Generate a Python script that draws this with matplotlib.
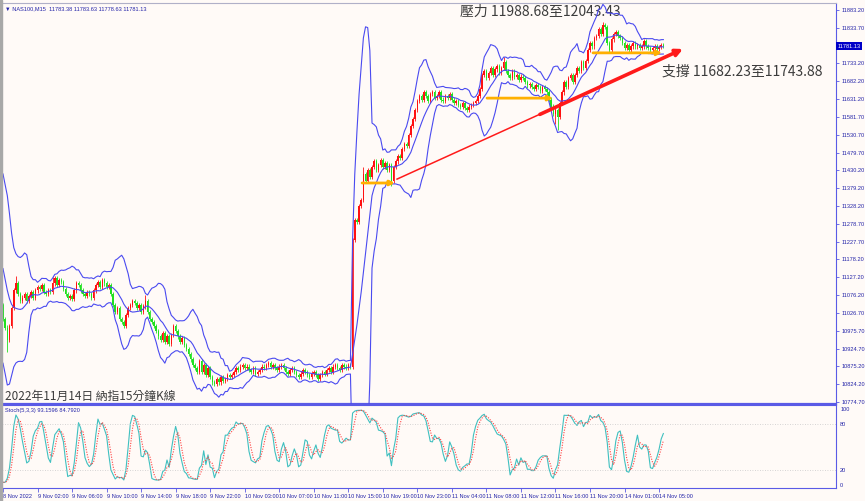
import matplotlib
matplotlib.use('Agg')
import matplotlib.pyplot as plt
import numpy as np
import pandas as pd
from matplotlib.transforms import blended_transform_factory
from matplotlib.patches import Rectangle

# ---------------- data ----------------
warmup_closes = [11290, 11260, 11230, 11200, 11170, 11140, 11100, 11070, 11050]

closes = [
    11010, 10985, 10950, 10990, 11040, 11090, 11110, 11080, 11060, 11070,
    11080, 11060, 11075, 11085, 11070, 11090, 11100, 11095, 11105, 11085,
    11080, 11090, 11085, 11110, 11125, 11105, 11120, 11115, 11095, 11080,
    11070, 11075, 11065, 11090, 11110, 11105, 11090, 11080, 11075, 11085,
    11080, 11070, 11090, 11105, 11115, 11100, 11120, 11110, 11100, 11105,
    11080, 11050, 11030, 11040, 11010, 11000, 10990, 11020, 11040, 11050,
    11060, 11055, 11040, 11050, 11030, 11045, 11060, 11030, 11010, 11000,
    10990, 10975, 10960, 10950, 10970, 10945, 10960, 10940, 10965, 10990,
    10975, 10960, 10945, 10955, 10935, 10925, 10910, 10895, 10880, 10870,
    10860, 10890, 10860, 10880, 10850, 10870, 10845, 10830, 10825, 10840,
    10830, 10845, 10835, 10840, 10850, 10845, 10850, 10860, 10870, 10865,
    10875, 10880, 10870, 10875, 10865, 10860, 10870, 10855, 10860, 10865,
    10875, 10870, 10880, 10885, 10875, 10880, 10870, 10865, 10875, 10880,
    10870, 10860, 10855, 10865, 10870, 10860, 10850, 10845, 10855, 10865,
    10860, 10850, 10845, 10855, 10860, 10850, 10840, 10850, 10860, 10855,
    10865, 10870, 10860, 10875, 10880, 10870, 10865, 10880, 10875, 10870,
    10880, 10875, 11233, 11290, 11285, 11330, 11345, 11420, 11400, 11430,
    11410, 11440, 11455, 11430, 11445, 11460, 11440, 11450, 11430, 11445,
    11400, 11440, 11455, 11470, 11465, 11490, 11505, 11500, 11530, 11555,
    11575, 11600, 11625, 11640, 11630, 11650, 11640, 11625, 11645, 11650,
    11635, 11640, 11650, 11630, 11625, 11640, 11635, 11645, 11630, 11620,
    11625, 11615, 11610, 11620, 11605, 11600, 11610, 11615, 11620, 11625,
    11640, 11660, 11700, 11710, 11690, 11705, 11720, 11700, 11715, 11725,
    11705, 11720, 11735, 11710, 11700, 11690, 11710, 11695, 11700, 11685,
    11695, 11690, 11680, 11670, 11675, 11665, 11660, 11670, 11665, 11655,
    11665, 11660, 11650, 11630, 11610, 11590, 11600, 11580, 11620, 11650,
    11680, 11665, 11690, 11700, 11680, 11700, 11720, 11710, 11735, 11720,
    11740, 11770, 11790, 11780, 11805, 11810, 11830, 11815, 11840, 11835,
    11790, 11770, 11800, 11815, 11820, 11810, 11805, 11790, 11775, 11785,
    11770, 11780, 11790, 11780, 11785, 11775, 11780, 11795, 11780, 11775,
    11770, 11775, 11780, 11772, 11778, 11785, 11781.13,
]

wick_size = 6
notable_highs = {6: 11130, 23: 11128, 66: 11077, 167: 11440, 232: 11750, 278: 11850}
notable_lows = {2: 10915, 180: 11385, 256: 11560, 257: 11545}

time_labels = ["8 Nov 2022", "9 Nov 02:00", "9 Nov 06:00", "9 Nov 10:00", "9 Nov 14:00",
               "9 Nov 18:00", "9 Nov 22:00", "10 Nov 03:00", "10 Nov 07:00", "10 Nov 11:00",
               "10 Nov 15:00", "10 Nov 19:00", "10 Nov 23:00", "11 Nov 04:00", "11 Nov 08:00",
               "11 Nov 12:00", "11 Nov 16:00", "11 Nov 20:00", "14 Nov 01:00", "14 Nov 05:00"]
bars_per_label = 16

price_ticks = [11883.20, 11833.70, 11733.20, 11682.20, 11631.20, 11581.70, 11530.70,
               11479.70, 11430.20, 11379.20, 11328.20, 11278.70, 11227.70, 11178.20,
               11127.20, 11076.20, 11026.70, 10975.70, 10924.70, 10875.20, 10824.20, 10774.70]
last_price = 11781.13

# support arrows: (start bar, end bar, level)
support_arrows = [(166.4, 181.6, 11394), (224.3, 254.9, 11634), (273.4, 305.4, 11762)]
trend_thin = [(182.6, 11405), (258.0, 11614)]
trend_thick = [(248.8, 11588), (315.1, 11773)]

header = "\u25bc NAS100,M15  11783.38 11783.63 11778.63 11781.13"
stoch_label = "Stoch(5,3,3) 93.1596 84.7920"
title_text = "2022年11月14日 納指15分鐘K線"
resist_text = "壓力 11988.68至12043.43"
support_text = "支撐 11682.23至11743.88"

# ---------------- derived series ----------------
allc = np.array(warmup_closes + closes, dtype=float)
nw = len(warmup_closes)
idx = np.arange(len(allc)) - nw
opens = np.empty_like(allc)
opens[0] = allc[0] + 15
opens[1:] = allc[:-1]
highs = np.maximum(opens, allc) + wick_size
lows = np.minimum(opens, allc) - wick_size
for k, v in notable_highs.items():
    highs[k + nw] = v
for k, v in notable_lows.items():
    lows[k + nw] = v

s = pd.Series(allc)
mid = s.rolling(10).mean()
sd = s.rolling(10).std(ddof=0)
upper = mid + 3 * sd
lower = mid - 3 * sd

hs, ls = pd.Series(highs), pd.Series(lows)
ll = ls.rolling(5).min()
hh = hs.rolling(5).max()
kline = (s - ll).rolling(3).sum() / (hh - ll).rolling(3).sum() * 100
dline = kline.rolling(3).mean()

# ---------------- figure ----------------
BG = '#FFFAF7'
AX = '#5A5AE6'
TXT = '#2323A8'
SMALL = ['Liberation Sans', 'DejaVu Sans']
FS = 4.1
fig = plt.figure(figsize=(8.65, 5.01), dpi=100, facecolor=BG)
ax = fig.add_axes([2/865, 1-404/501, 834/865, 401/501], facecolor=BG)
ax2 = fig.add_axes([2/865, 1-488/501, 834/865, 83/501], facecolor=BG, sharex=ax)

# candles
up = allc >= opens
col = np.where(up, '#FF1010', '#20E020')
ax.vlines(idx, lows, highs, colors=col, linewidth=0.6, zorder=2)
bh = np.abs(allc - opens)
bh = np.maximum(bh, 1.5)
ax.bar(idx, bh, bottom=np.minimum(opens, allc), width=0.7, color=col, linewidth=0, zorder=3)

# bands
for line in (upper, mid, lower):
    ax.plot(idx, line, color='#4A4AF0', lw=0.8, zorder=4)

# arrows & trend
for x0, x1, lvl in support_arrows:
    ax.annotate('', xy=(x1, lvl), xytext=(x0, lvl),
                arrowprops=dict(arrowstyle='-|>', color='#FFB000', lw=2.0, mutation_scale=7,
                                shrinkA=0, shrinkB=0), zorder=5)
ax.plot([p[0] for p in trend_thin], [p[1] for p in trend_thin], color='#FF1A1A', lw=1.1, zorder=5)
ax.annotate('', xy=trend_thick[1], xytext=trend_thick[0],
            arrowprops=dict(arrowstyle='-|>', color='#FF1A1A', lw=2.6, mutation_scale=10,
                            shrinkA=0, shrinkB=0), zorder=5)

cjk = ['Noto Sans CJK TC', 'DejaVu Sans']
ax.text(211.8, 11877, resist_text, family=cjk, fontsize=10, color='#3C3C3C', ha='left', va='center')
ax.text(305.4, 11708, support_text, family=cjk, fontsize=10, color='#3C3C3C', ha='left', va='center')
ax.text(0.9, 10791, title_text, family=cjk, fontsize=8.5, color='#3C3C3C', ha='left', va='center')
ax.text(0.004, 0.992, header, transform=ax.transAxes, family=SMALL, fontsize=FS, color=TXT,
        ha='left', va='top')

xmax = (836 - 3) / 2.158
ax.set_xlim(-0.46, xmax)
ax.set_ylim(10769, 11903)
ax.yaxis.tick_right()
ax.set_yticks(price_ticks)
ax.set_yticklabels([f"{v:.2f}" for v in price_ticks], family=SMALL)
ax.tick_params(axis='y', colors=AX, labelcolor=TXT, labelsize=FS, length=2.5, width=0.6, pad=1.2)
ax.tick_params(axis='x', bottom=False, labelbottom=False)
tr = blended_transform_factory(ax.transAxes, ax.transData)
ax.text(1.0015, last_price, f"{last_price:.2f}", transform=tr, family=SMALL, fontsize=FS,
        color='white', ha='left', va='center',
        bbox=dict(facecolor='#0000C8', edgecolor='none', pad=1.0))

for a in (ax, ax2):
    for sp in a.spines.values():
        sp.set_color(AX)
        sp.set_linewidth(0.8)
    a.spines['left'].set_visible(False)
ax.spines['bottom'].set_linewidth(1.6)
ax.spines['top'].set_color('#B0B0C8')

# stochastic
ax2.plot(idx, kline, color='#40C0C0', lw=0.8)
ax2.plot(idx, dline, color='#FF4040', lw=0.8, ls=(0, (1, 1.3)))
ax2.axhline(80, color='#C8C8C8', lw=0.6, ls=(0, (1, 2)))
ax2.axhline(20, color='#C8C8C8', lw=0.6, ls=(0, (1, 2)))
ax2.set_ylim(-3.9, 105.3)
ax2.yaxis.tick_right()
ax2.set_yticks([0, 20, 80, 100])
ax2.set_yticklabels(['0', '20', '80', '100'], family=SMALL)
ax2.tick_params(axis='y', colors=AX, labelcolor=TXT, labelsize=FS, length=0, pad=3)
ax2.text(0.004, 0.965, stoch_label, transform=ax2.transAxes, family=SMALL, fontsize=FS,
         color=TXT, ha='left', va='top')
tick_pos = [i * bars_per_label for i in range(len(time_labels))]
ax2.set_xticks(tick_pos)
ax2.set_xticklabels(time_labels, family=SMALL)
ax2.tick_params(axis='x', colors=AX, labelcolor=TXT, labelsize=FS, length=3, width=0.6, pad=1.2)
for lab in ax2.get_xticklabels():
    lab.set_ha('left')

# window edge
fig.patches.append(Rectangle((0, 0), 2/865, 1, transform=fig.transFigure, color='#A8A8A8', zorder=0))

fig.savefig('out.png', dpi=100, facecolor=BG)
